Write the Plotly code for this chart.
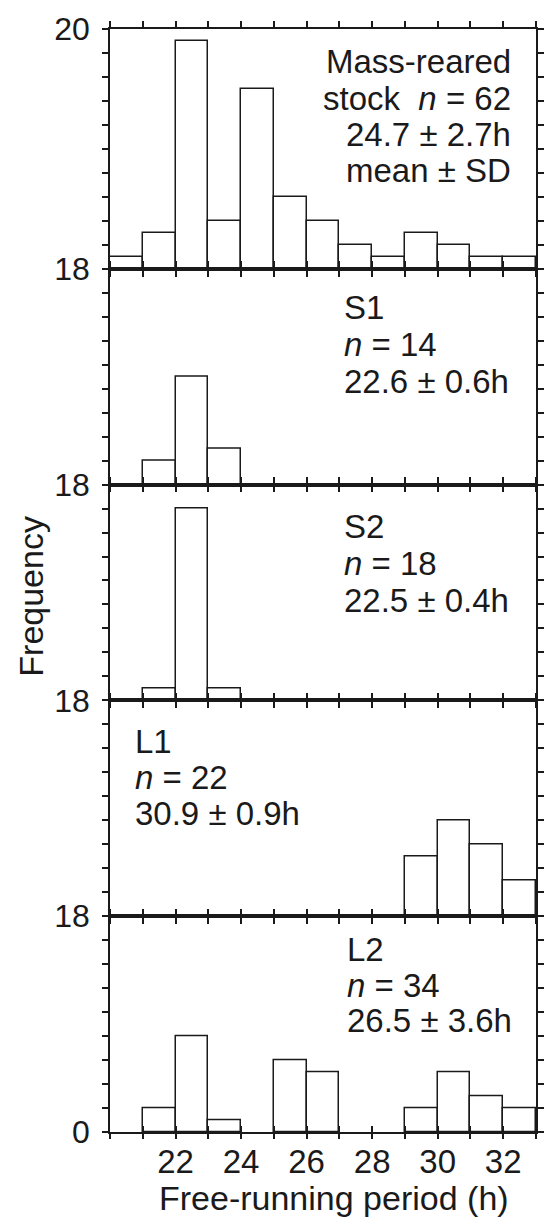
import plotly.graph_objects as go
from plotly.subplots import make_subplots

# ---- data ----
bin_centers = [20.5, 21.5, 22.5, 23.5, 24.5, 25.5, 26.5, 27.5, 28.5, 29.5, 30.5, 31.5, 32.5]
mass_reared = [1, 3, 19, 4, 15, 6, 4, 2, 1, 3, 2, 1, 1]
s1 = [0, 2, 9, 3, 0, 0, 0, 0, 0, 0, 0, 0, 0]
s2 = [0, 1, 16, 1, 0, 0, 0, 0, 0, 0, 0, 0, 0]
l1 = [0, 0, 0, 0, 0, 0, 0, 0, 0, 5, 8, 6, 3]
l2 = [0, 2, 8, 1, 0, 6, 5, 0, 0, 2, 5, 3, 2]
series = [mass_reared, s1, s2, l1, l2]
y_max = [20, 18, 18, 18, 18]

x_tick_vals = list(range(20, 34))
x_tick_text = ["", "", "22", "", "24", "", "26", "", "28", "", "30", "", "32", ""]

panel_texts = [
    ["Mass-reared", "stock  <i>n</i> = 62", "24.7 ± 2.7h", "mean ± SD"],
    ["S1", "<i>n</i> = 14", "22.6 ± 0.6h"],
    ["S2", "<i>n</i> = 18", "22.5 ± 0.4h"],
    ["L1", "<i>n</i> = 22", "30.9 ± 0.9h"],
    ["L2", "<i>n</i> = 34", "26.5 ± 3.6h"],
]

FONT = "Liberation Sans, Arial, sans-serif"
INK = "#1a1a1a"

fig = make_subplots(rows=5, cols=1, shared_xaxes=False, vertical_spacing=0,
                    row_heights=y_max)

for i, vals in enumerate(series):
    r = i + 1
    shown = [v if v > 0 else None for v in vals]
    fig.add_trace(go.Bar(x=bin_centers, y=shown, width=1.0,
                         marker=dict(color="white", line=dict(color=INK, width=1.5)),
                         showlegend=False, hoverinfo="skip"), row=r, col=1)
    top = y_max[i]
    yvals = list(range(0, top + 1, 2))
    ytext = [""] * len(yvals)
    ytext[-1] = str(top)
    if r == 5:
        ytext[0] = "0"
    fig.update_yaxes(range=[0, top], tickvals=yvals, ticktext=ytext,
                     ticks="outside", ticklen=6, tickwidth=1.5, tickcolor=INK,
                     showline=True, linecolor=INK, linewidth=1.5, mirror="ticks",
                     showgrid=False, zeroline=False, ticklabelstandoff=6,
                     tickfont=dict(family=FONT, size=32, color=INK),
                     row=r, col=1)
    fig.update_xaxes(range=[20, 33], tickvals=x_tick_vals,
                     ticktext=x_tick_text if r == 5 else [""] * len(x_tick_vals),
                     showticklabels=(r == 5),
                     ticks=("inside" if r == 5 else "outside"), ticklen=6,
                     tickwidth=1.5, tickcolor=INK,
                     showline=True, linecolor=INK, linewidth=1.5, mirror="ticks",
                     showgrid=False, zeroline=False,
                     tickfont=dict(family=FONT, size=33, color=INK),
                     row=r, col=1)

# extra overlay axis on the bottom panel so its ticks cross the axis lines
fig.add_trace(go.Scatter(x=[None], y=[None], xaxis="x6", yaxis="y5",
                         showlegend=False, hoverinfo="skip"))
fig.update_layout(xaxis6=dict(overlaying="x5", anchor="y5", side="bottom",
                              range=[20, 33], tickvals=x_tick_vals,
                              showticklabels=False, ticks="outside", ticklen=6,
                              tickwidth=1.5, tickcolor=INK, showline=False,
                              mirror="ticks", showgrid=False, zeroline=False))

# panel annotations (positions in data units of each panel)
ann_layout = [
    (32.27, "right", [17.26, 14.23, 11.2, 8.17]),
    (27.1, "left", [14.76, 11.69, 8.62]),
    (27.1, "left", [14.49, 11.43, 8.37]),
    (20.72, "left", [14.54, 11.55, 8.55]),
    (27.2, "left", [15.2, 12.24, 9.29]),
]
for i, (xpos, anchor, ys) in enumerate(ann_layout):
    xref = "x" if i == 0 else f"x{i+1}"
    yref = "y" if i == 0 else f"y{i+1}"
    for line, yv in zip(panel_texts[i], ys):
        fig.add_annotation(x=xpos, y=yv, xref=xref, yref=yref, text=line,
                           xanchor=anchor, yanchor="middle", showarrow=False,
                           borderpad=0,
                           font=dict(family=FONT, size=33, color=INK))

fig.add_annotation(x=26.85, xref="x5", y=-0.0594, yref="paper",
                   text="Free-running period (h)", showarrow=False,
                   xanchor="center", yanchor="middle", borderpad=0,
                   font=dict(family=FONT, size=34, color=INK))
fig.add_annotation(x=-0.186, xref="paper", y=0.486, yref="paper",
                   text="Frequency", textangle=-90, showarrow=False,
                   xanchor="center", yanchor="middle",
                   font=dict(family=FONT, size=34, color=INK))

fig.update_layout(width=555, height=1217,
                  margin=dict(l=110, r=11, t=21, b=85),
                  paper_bgcolor="white", plot_bgcolor="white",
                  bargap=0, showlegend=False)

fig.write_html("out.html")
